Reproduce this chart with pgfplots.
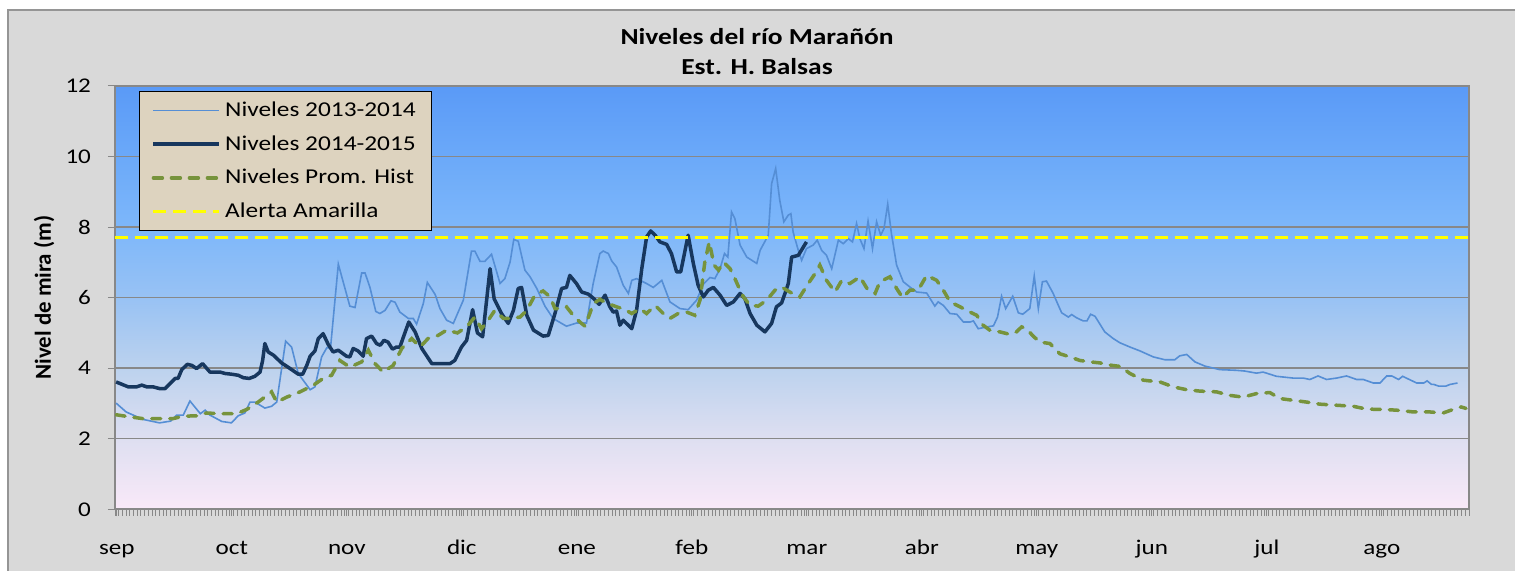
\documentclass[border=0pt]{standalone}
\usepackage{fontspec}
\setmainfont{Carlito}[FakeStretch=1.2]
\newfontfamily\plainfont{Carlito}
\usepackage{pgfplots}
\pgfplotsset{compat=1.18}

\definecolor{c0}{HTML}{F9E9F8}
\definecolor{c2}{HTML}{DEDFF1}
\definecolor{c4}{HTML}{BCD2EE}
\definecolor{c6}{HTML}{98C2F4}
\definecolor{c8}{HTML}{7DB7FA}
\definecolor{c10}{HTML}{6BA9F9}
\definecolor{c12}{HTML}{5A9AF7}
\pgfdeclareverticalshading{plotbg}{100bp}{color(0bp)=(c0); color(25bp)=(c0); color(33.33bp)=(c2); color(41.67bp)=(c4); color(50bp)=(c6); color(58.33bp)=(c8); color(66.67bp)=(c10); color(75bp)=(c12); color(100bp)=(c12)}

\definecolor{panel}{HTML}{D9D9D9}
\definecolor{panelborder}{HTML}{959595}
\definecolor{gridgray}{HTML}{888888}
\definecolor{legendbg}{HTML}{DDD3BF}
\definecolor{s1c}{HTML}{558ED5}
\definecolor{s2c}{HTML}{17375E}
\definecolor{s3c}{HTML}{77933C}
\definecolor{s4c}{HTML}{FFFF00}

\pgfplotstableread{
d v
0.3 3.01
3 2.76
7.5 2.55
12 2.45
15 2.50
16.6 2.67
18.4 2.67
20.2 3.07
23 2.71
24.3 2.81
25.6 2.67
28.8 2.49
31.4 2.45
33.2 2.65
35 2.73
36.4 3.04
37.7 3.04
40.4 2.87
42.2 2.92
43.6 3.04
46 4.77
47.6 4.60
49.4 3.85
52.6 3.39
53.9 3.47
55.7 4.32
57.1 4.58
58.1 4.58
60.2 6.95
63.3 5.76
64.7 5.72
66.5 6.70
67.4 6.70
68.7 6.30
70.3 5.61
71.4 5.55
72.8 5.64
74.4 5.91
75.5 5.87
76.8 5.59
79.1 5.41
80.4 5.41
81.3 5.25
83.1 5.83
84.2 6.43
86.3 6.09
87.6 5.69
89.4 5.36
91.2 5.27
93.9 5.93
96.1 7.32
97 7.32
98.4 7.03
99.7 7.03
101.5 7.23
103.8 6.40
105.1 6.54
106.5 7.01
107.5 7.65
108.7 7.60
110.5 6.78
111.9 6.59
113.7 6.26
115.9 5.76
118.1 5.41
121.7 5.19
124.4 5.28
127.1 5.28
128.9 6.40
130.7 7.25
131.6 7.32
133 7.25
133.9 7.04
135.2 6.87
137 6.35
138.4 6.12
139.3 6.49
140.6 6.54
143.3 6.40
145.1 6.29
147.4 6.49
149.6 5.88
152.3 5.69
154.5 5.66
156.8 5.93
158.6 6.38
160.4 6.57
161.7 6.54
163.1 6.82
164.3 7.25
165.2 7.15
166.2 8.43
167.1 8.24
168.5 7.49
170.3 7.15
173 6.97
173.9 7.34
176.1 7.77
177 9.23
178.1 9.66
179.2 8.76
180.3 8.15
181.5 8.34
182.2 8.38
182.8 7.86
184.2 7.34
185.1 7.06
186.4 7.39
188.2 7.49
189.3 7.63
190.5 7.34
191.8 7.20
193.2 6.82
195 7.63
196.3 7.53
197.7 7.67
198.8 7.58
199.9 8.10
200.8 7.67
201.9 7.39
203 8.17
204.2 7.39
205.3 8.15
206.4 7.77
207.3 7.96
208.3 8.65
209.3 7.82
210.7 6.92
212.5 6.45
214.3 6.30
216.1 6.16
218.8 6.13
221 5.76
221.9 5.88
223.3 5.78
225.1 5.55
226.9 5.53
228.7 5.31
230.5 5.31
231.4 5.34
232.7 5.12
235 5.17
236.8 5.20
237.9 5.45
239 6.04
240.1 5.69
242 6.04
243.5 5.57
244.7 5.53
246.6 5.69
247.8 6.61
248.9 5.69
250 6.45
251.1 6.47
252.9 6.12
254.3 5.78
255.2 5.57
257 5.45
257.9 5.52
259.2 5.43
261 5.34
262 5.34
263 5.53
264.2 5.47
266.8 5.03
269.1 4.84
270.9 4.72
273.6 4.60
276.3 4.49
279.9 4.32
283 4.24
285.7 4.24
287 4.35
288.9 4.39
291.1 4.18
293.8 4.06
297.8 3.96
302.3 3.94
304.5 3.92
307.7 3.86
309.5 3.89
313.1 3.77
317.6 3.72
320.3 3.72
322.1 3.68
324.3 3.78
326.6 3.68
329.3 3.72
332 3.78
334.7 3.68
336.5 3.68
339.2 3.58
341 3.58
342.8 3.78
344.2 3.78
346 3.68
347.1 3.77
350.9 3.58
352.8 3.58
353.7 3.64
354.9 3.54
355.5 3.54
356.9 3.49
358.7 3.49
359.9 3.54
361.9 3.58
}\sA

\pgfplotstableread{
d v
0.3 3.61
3.6 3.47
5.8 3.47
7.2 3.52
8.6 3.47
10.3 3.47
12.1 3.42
13.5 3.42
14.8 3.56
16.2 3.71
17 3.71
18 3.96
19.5 4.11
20.7 4.08
22 3.99
23.6 4.13
25.6 3.89
28.3 3.89
29.7 3.85
31.4 3.83
33.2 3.80
34.6 3.73
36.2 3.71
37.7 3.77
39.1 3.89
39.8 4.22
40.4 4.70
41.3 4.46
42.7 4.37
44.9 4.15
47.2 3.99
49.4 3.83
50.6 3.83
51.7 4.08
52.6 4.34
53.9 4.49
54.8 4.84
56.1 4.98
57.5 4.67
58.8 4.46
60.2 4.51
62.4 4.34
63.3 4.32
64.2 4.56
65.5 4.49
66.9 4.34
67.8 4.84
69.2 4.91
70.5 4.70
71.5 4.65
72.5 4.79
73.6 4.74
74.8 4.54
75.9 4.60
76.8 4.60
77.9 4.93
79.2 5.31
80.9 5.03
82.7 4.56
85.4 4.13
87.1 4.13
90.3 4.13
91.6 4.22
93.4 4.60
94.8 4.79
96.4 5.66
97.7 5.00
99.1 4.89
101.1 6.82
102.2 5.97
104.2 5.55
106 5.27
107.4 5.64
108.7 6.26
109.6 6.29
111 5.50
112.8 5.08
115.4 4.91
116.8 4.93
118.6 5.55
120.4 6.26
121.7 6.29
122.6 6.63
124.4 6.40
125.8 6.16
127.6 6.10
129.1 5.97
130.5 5.81
132.1 6.07
133.4 5.74
134.3 5.59
135.2 5.62
136.1 5.22
137 5.36
139.3 5.12
140.6 5.64
142 6.82
143.3 7.72
144.4 7.89
145.6 7.77
146.9 7.58
148.7 7.51
150 7.25
151.4 6.73
152.5 6.73
154.5 7.77
155.9 6.97
157.2 6.35
158.6 6.02
159.9 6.21
161.3 6.29
163.1 6.07
164.9 5.78
166.7 5.88
168.5 6.12
169.8 5.97
171.2 5.55
173 5.22
175.2 5.03
177 5.27
178.3 5.74
179.7 5.85
180.6 6.12
181.5 6.40
182.4 7.15
184.2 7.20
185.3 7.39
186.4 7.58
}\sB

\pgfplotstableread{
d v
0.3 2.68
4 2.62
7.6 2.57
12 2.57
15.6 2.57
18.4 2.64
22 2.65
24.7 2.73
28.3 2.71
32.8 2.71
35.5 2.83
38.6 3.04
42.2 3.33
43.6 3.04
46.3 3.18
49.9 3.33
53.5 3.52
56.1 3.71
58.4 3.80
60.6 4.22
63.3 4.03
66.5 4.18
68.3 4.51
70.1 4.13
72.3 3.89
75 4.08
77.3 4.56
80 4.84
82.2 4.60
84.4 4.84
87.1 4.93
89.4 5.08
92.3 5.00
94.8 5.17
97 5.45
98.8 5.12
100.6 5.36
102.4 5.64
104.7 5.41
106.9 5.41
109.2 5.45
111 5.64
113.2 6.07
115.4 6.19
117.3 6.02
118.6 5.69
120.4 5.69
121.7 5.74
123.5 5.50
125.3 5.31
126.7 5.19
128 5.55
128.9 5.83
130.7 5.95
132.5 5.85
135.2 5.74
137.5 5.66
139.3 5.55
141.5 5.69
143.3 5.55
145.6 5.78
147.8 5.55
149.6 5.41
151.8 5.55
154.1 5.59
156.3 5.50
157.7 5.93
159 7.01
160.2 7.58
161.5 6.92
162.7 6.78
164 7.01
165.8 6.82
167.1 6.54
168.5 6.21
169.4 6.02
171.2 5.78
173.4 5.76
175.7 5.93
177.9 6.21
179.7 6.30
181.9 6.16
184.6 6.02
186.9 6.40
188.7 6.68
190 6.92
191.8 6.49
194.1 6.16
195.9 6.49
198.1 6.40
200.8 6.59
203 6.21
204.9 6.12
206.2 6.45
208.9 6.59
210.7 6.26
212.3 6.00
214.3 6.21
216.5 6.21
218.8 6.63
221.5 6.49
223.3 6.21
225.1 5.88
227.8 5.74
230.5 5.59
232.3 5.50
234 5.22
235.8 5.08
238.5 5.03
241.2 4.96
243 5.03
244.4 5.17
245.7 5.12
247.5 4.91
249.3 4.74
252 4.70
254.7 4.41
257.4 4.32
260.1 4.22
262.8 4.18
265.5 4.15
268.7 4.08
271 4.05
273.6 3.85
277.2 3.66
281.7 3.61
285.3 3.47
288.9 3.39
292.5 3.35
296.9 3.33
300.5 3.23
304.1 3.18
307.7 3.28
311.3 3.31
314 3.14
317.6 3.09
321.2 3.04
324.8 2.98
329.3 2.95
333.8 2.92
337.4 2.84
341.9 2.83
345.5 2.81
350 2.76
354.4 2.76
358 2.73
360.7 2.83
362.9 2.90
364.2 2.86
}\sC

\begin{document}
\begin{tikzpicture}
\path[use as bounding box] (0,0) rectangle (757.5bp,285.5bp);
\fill[white] (0,0) rectangle (757.5bp,285.5bp);
\fill[panel] (4bp,0) rectangle (757.5bp,280.5bp);
\draw[panelborder, line width=0.7bp] (4bp,0) -- (4bp,280.5bp) -- (757.5bp,280.5bp);

\node[font=\bfseries\fontsize{11.5}{13}\selectfont] at (378.5bp,267bp) {Niveles del río Marañón};
\node[font=\bfseries\fontsize{11.5}{13}\selectfont] at (378.5bp,252bp) {Est. H. Balsas};

\begin{axis}[
  at={(57.5bp,30.85bp)}, anchor=south west,
  scale only axis, width=677bp, height=211.65bp,
  xmin=0, xmax=365, ymin=0, ymax=12,
  axis background/.style={shading=plotbg},
  ytick={0,2,...,12},
  xtick={0.5,31.5,62.5,93.5,124.5,155.5,186.5,217.5,248.5,279.5,310.5,341.5},
  xticklabels={sep,oct,nov,dic,ene,feb,mar,abr,may,jun,jul,ago},
  minor xtick={0,1,...,365},
  tick pos=left, tick align=outside,
  major tick length=3.5bp, minor tick length=3.3bp,
  every tick/.style={draw=gridgray, line width=0.5bp},
  minor tick style={draw=gridgray, line width=0.5bp},
  ymajorgrids, major grid style={draw=gridgray, line width=0.75bp},
  axis line style={draw=gridgray, line width=0.9bp},
  /pgf/number format/assume math mode=true,
  ticklabel style={font=\fontsize{10.5}{12}\selectfont},
  yticklabel style={xshift=-5bp},
  xticklabel style={anchor=base, yshift=-18.9bp},
  ylabel={Nivel de mira (m)},
  ylabel style={font=\plainfont\bfseries\fontsize{11.5}{13}\selectfont, at={(axis description cs:-0.0524,0.5)}, anchor=center},
  legend style={at={(0.0177,0.988)}, anchor=north west, fill=legendbg, draw=black, line width=0.7bp,
    font=\fontsize{10.6}{12.5}\selectfont, row sep=4bp, inner xsep=6bp, inner ysep=3bp},
  legend cell align=left,
  legend image code/.code={\draw[#1] (0bp,0bp) -- (33bp,0bp);},
]
\addplot[s1c, line width=0.8bp] table[x=d,y=v] {\sA};
\addlegendentry{Niveles 2013-2014}
\addplot[s2c, line width=1.75bp, line join=round] table[x=d,y=v] {\sB};
\addlegendentry{Niveles 2014-2015}
\addplot[s3c, line width=1.75bp, line cap=round, dash pattern=on 4.5bp off 4.5bp] table[x=d,y=v] {\sC};
\addlegendentry{Niveles Prom. Hist}
\addplot[s4c, line width=1.5bp, dash pattern=on 6.5bp off 3.5bp] coordinates {(0,7.7) (365,7.7)};
\addlegendentry{Alerta Amarilla}
\end{axis}
\end{tikzpicture}
\end{document}
